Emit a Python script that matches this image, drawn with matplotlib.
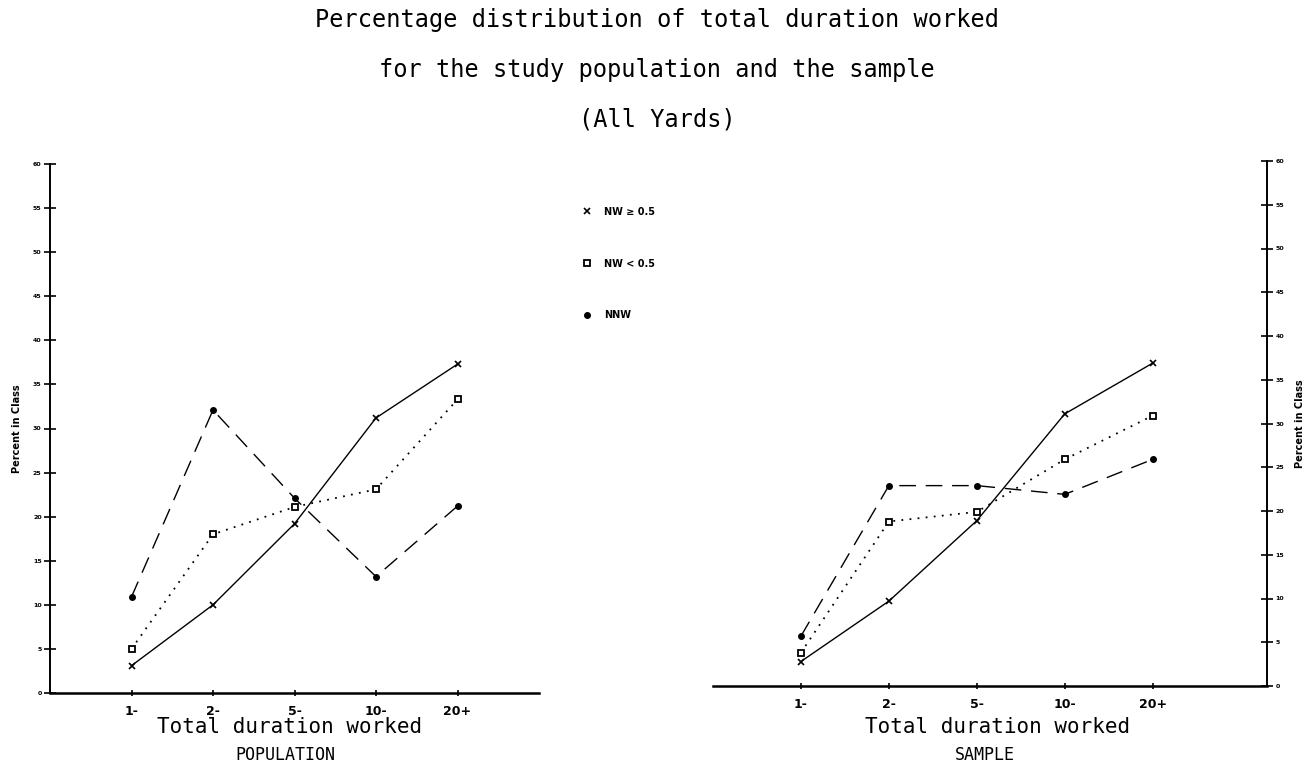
import matplotlib
matplotlib.use("Agg")
import matplotlib.pyplot as plt
from matplotlib.lines import Line2D

categories = ["1-", "2-", "5-", "10-", "20+"]
series_names = ["NW \u2265 0.5", "NW < 0.5", "NNW"]

pop_nw_high = [3.1, 10.0, 19.2, 31.2, 37.3]
pop_nw_low = [5.0, 18.0, 21.1, 23.1, 33.3]
pop_nnw = [10.9, 32.1, 22.1, 13.2, 21.2]

samp_nw_high = [2.8, 9.7, 18.9, 31.1, 36.9]
samp_nw_low = [3.8, 18.8, 19.9, 25.9, 30.9]
samp_nnw = [5.7, 22.9, 22.9, 21.9, 25.9]

y_ticks = list(range(0, 61, 5))

W, H = 1313, 772
fig = plt.figure(figsize=(W / 100, H / 100), dpi=100)
fig.patch.set_facecolor("white")

styles = [
    dict(color="black", lw=1.0, ls="-", marker="x", ms=4, mew=1.2),
    dict(color="black", lw=1.3, ls=(0, (1, 3.5)), marker="s", ms=4.5, mfc="white", mew=1.3),
    dict(color="black", lw=1.0, ls=(0, (12, 7)), marker="o", ms=4, mfc="black"),
]

def fx(px):
    return px / W

def fy(py):
    return 1 - py / H

ax1 = fig.add_axes([fx(50), fy(693), fx(539) - fx(50), fy(164) - fy(693)])
ax2 = fig.add_axes([fx(713), fy(686), fx(1267) - fx(713), fy(161) - fy(686)])

x = list(range(1, len(categories) + 1))

for ax, data, xmax, side in [
    (ax1, [pop_nw_high, pop_nw_low, pop_nnw], 6.0, "left"),
    (ax2, [samp_nw_high, samp_nw_low, samp_nnw], 6.3, "right"),
]:
    for vals, st in zip(data, styles):
        ax.plot(x, vals, clip_on=False, **st)
    ax.set_xlim(0, xmax)
    ax.set_ylim(0, 60)
    ax.set_xticks(x)
    ax.set_xticklabels(categories, fontsize=9, fontweight="bold", family="DejaVu Sans")
    ax.set_yticks(y_ticks)
    ax.set_yticklabels([str(t) for t in y_ticks], fontsize=4.5, fontweight="bold")
    ax.tick_params(axis="x", direction="inout", length=5, width=1.2, pad=6)
    ax.tick_params(axis="y", direction="inout", length=8, width=1.2, pad=2)
    ax.spines["top"].set_visible(False)
    ax.spines["bottom"].set_linewidth(1.8)
    for s in ["left", "right"]:
        ax.spines[s].set_linewidth(1.4)
    if side == "left":
        ax.spines["right"].set_visible(False)
        ax.yaxis.set_ticks_position("left")
        ax.set_ylabel("Percent in Class", fontsize=7, fontweight="bold", labelpad=8)
    else:
        ax.spines["left"].set_visible(False)
        ax.yaxis.set_ticks_position("right")
        ax.yaxis.set_label_position("right")
        ax.set_ylabel("Percent in Class", fontsize=7, fontweight="bold", labelpad=8)
    ax.patch.set_alpha(0)

mono = "DejaVu Sans Mono"
fig.text(fx(290), fy(727), "Total duration worked", ha="center", va="center",
         fontsize=15, family=mono)
fig.text(fx(285), fy(755), "POPULATION", ha="center", va="center",
         fontsize=12, family=mono)
fig.text(fx(998), fy(727), "Total duration worked", ha="center", va="center",
         fontsize=15, family=mono)
fig.text(fx(985), fy(755), "SAMPLE", ha="center", va="center",
         fontsize=12, family=mono)

titles = ["Percentage distribution of total duration worked",
          "for the study population and the sample",
          "(All Yards)"]
for t, py in zip(titles, [20, 70, 120]):
    fig.text(fx(657), fy(py), t, ha="center", va="center", fontsize=17,
             family=mono)

handles = [Line2D([], [], ls="none", marker=st["marker"], ms=st["ms"], color="black",
                  mfc=st.get("mfc", "black"), mew=st.get("mew", 1.0)) for st in styles]
fig.legend(handles, series_names, loc="upper left",
           bbox_to_anchor=(fx(572), fy(198)), frameon=False,
           prop=dict(size=7, weight="bold"), labelspacing=4.3,
           handlelength=1.2, handletextpad=1.2)

fig.savefig("out.png", dpi=100, facecolor="white")
